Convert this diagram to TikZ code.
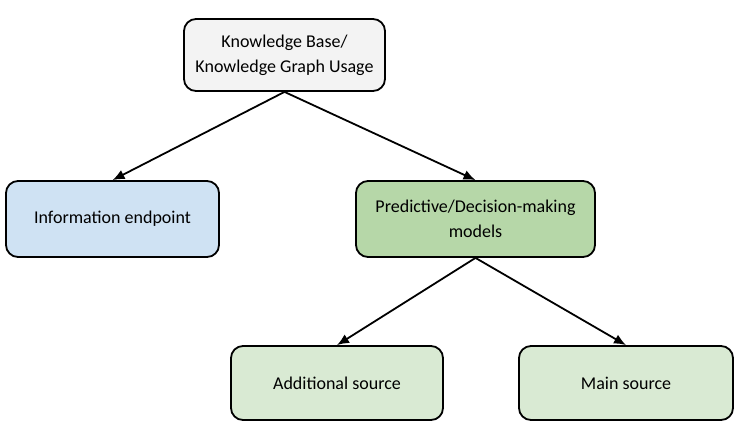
\documentclass[tikz,border=0pt]{standalone}
\usepackage{fontspec}
\setmainfont{Carlito}
\usepackage{xcolor}
\definecolor{kbgray}{RGB}{243, 243, 243}
\definecolor{infoblue}{RGB}{207, 226, 243}
\definecolor{modelgreen}{RGB}{182, 215, 168}
\definecolor{srcgreen}{RGB}{217, 234, 211}
\usepackage{tikz}
\usetikzlibrary{arrows.meta,positioning,shapes,calc}

\begin{document}
\begin{tikzpicture}[x = 1pt, y = -1pt,
  box/.style = {draw, line width = 1.8pt, rounded corners = 12pt, align = center, font = \fontsize{18}{25}\selectfont, inner sep = 0pt},
  link/.style = {-{Latex[length=12pt,width=10pt]}, line width = 1.8pt}]
\useasboundingbox (0,0) rectangle (754,440);
% Top level
\node[box, fill = kbgray, minimum width = 201pt, minimum height = 72pt] (kb) at (284.5,55) {Knowledge Base/\\Knowledge Graph Usage};
% Second level
\node[box, fill = infoblue, minimum width = 213pt, minimum height = 76pt] (info) at (112.5,219) {Information endpoint};
\node[box, fill = modelgreen, minimum width = 239pt, minimum height = 76pt] (models) at (475.5,219) {Predictive/Decision-making\\models};
% Sources
\node[box, fill = srcgreen, minimum width = 212pt, minimum height = 74pt] (addsrc) at (337,383) {Additional source};
\node[box, fill = srcgreen, minimum width = 214pt, minimum height = 74pt] (mainsrc) at (626,383) {Main source};
% Arrows
\draw[link] (kb.south) -- (info.north);
\draw[link] (kb.south) -- (models.north);
\draw[link] (models.south) -- (addsrc.north);
\draw[link] (models.south) -- (mainsrc.north);
\end{tikzpicture}
\end{document}
